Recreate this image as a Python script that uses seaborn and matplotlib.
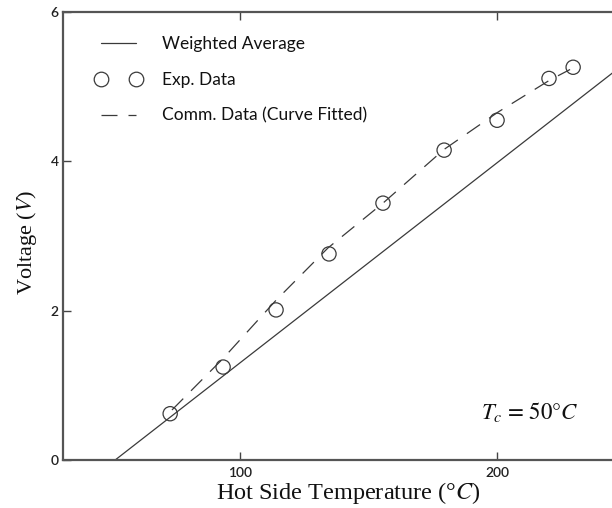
import matplotlib
matplotlib.use("Agg")
import matplotlib.pyplot as plt
import seaborn as sns
import pandas as pd
from matplotlib.lines import Line2D

# --- data ---
wa_temp = [51.4, 250.0]
wa_volt = [0.0, 5.32]

exp_temp = [72.8, 93.4, 114.0, 134.6, 155.6, 179.4, 200.0, 220.2, 229.6]
exp_volt = [0.62, 1.245, 2.01, 2.76, 3.44, 4.15, 4.55, 5.11, 5.26]

comm_temp = [73.5, 93.4, 114.0, 134.2, 155.6, 179.4, 200.4, 220.6, 228.4]
comm_volt = [0.67, 1.36, 2.14, 2.84, 3.44, 4.16, 4.66, 5.09, 5.23]

x_ticks = [100, 200]
y_ticks = [0, 2, 4, 6]

sns.set_style("ticks")
plt.rcParams["mathtext.fontset"] = "stix"

fig = plt.figure(figsize=(6.12, 5.08), dpi=100)
x0, x1 = 31.1, 260.0
px_per_unit = 2.57
ax_w_px = (x1 - x0) * px_per_unit
ax = fig.add_axes([63 / 612, 48 / 508, ax_w_px / 612, 448 / 508])

wa = pd.DataFrame({"T": wa_temp, "V": wa_volt})
ex = pd.DataFrame({"T": exp_temp, "V": exp_volt})
cm = pd.DataFrame({"T": comm_temp, "V": comm_volt})

sns.lineplot(data=wa, x="T", y="V", ax=ax, color="#3a3a3a", lw=0.9)
sns.lineplot(data=cm, x="T", y="V", ax=ax, color="#3a3a3a", lw=0.9,
             dashes=False)
ax.lines[-1].set_dashes((12.8, 8.8))
sns.scatterplot(data=ex, x="T", y="V", ax=ax, marker="o", s=105,
                facecolor="none", edgecolor="#3a3a3a", linewidth=0.9, zorder=3)

ax.set_xlim(x0, x1)
ax.set_ylim(0, 6)
ax.set_xticks(x_ticks)
ax.set_yticks(y_ticks)
tick_font = dict(family="Lato", size=10, weight="semibold", color="#222222")
ax.set_xticklabels([str(t) for t in x_ticks], **tick_font)
ax.set_yticklabels([str(t) for t in y_ticks], **tick_font)
ax.tick_params(axis="both", direction="in", length=6, width=1, color="#444444",
               top=True, pad=3)
ax.tick_params(axis="x", pad=5)
for s in ax.spines.values():
    s.set_color("#555555")
    s.set_linewidth(1.6)

ax.set_xlabel("Hot Side Temperature (°$C$)", family="Liberation Serif", fontsize=17.5,
              color="#111111", va="center")
ax.xaxis.set_label_coords((348 - 63) / ax_w_px, -33 / 448)
ax.set_ylabel("Voltage ($V$)", family="Liberation Serif", fontsize=16,
              color="#111111", va="center")
ax.yaxis.set_label_coords((27 - 63) / ax_w_px, (460 - 242) / 448)

ax.text(212.8, 0.64, r"$T_c$ = 50°$C$", fontsize=16.5, ha="center", va="center",
        color="#111111", family="STIXGeneral")

handles = [
    Line2D([], [], color="#3a3a3a", lw=0.9),
    Line2D([], [], color="#3a3a3a", marker="o", markersize=10.5, markerfacecolor="none",
           markeredgewidth=0.9, linestyle="none"),
    Line2D([], [], color="#3a3a3a", lw=0.9, dashes=(12.8, 8.8)),
]
labels = ["Weighted Average", "Exp. Data", "Comm. Data (Curve Fitted)"]
leg = ax.legend(handles, labels, loc="upper left", bbox_to_anchor=(0.03, 0.982),
                frameon=False, numpoints=2, handlelength=2.6, handletextpad=1.2,
                labelspacing=1.15, prop=dict(family="Lato", size=12.5))
for t in leg.get_texts():
    t.set_color("#111111")

fig.savefig("out.png", dpi=100)
